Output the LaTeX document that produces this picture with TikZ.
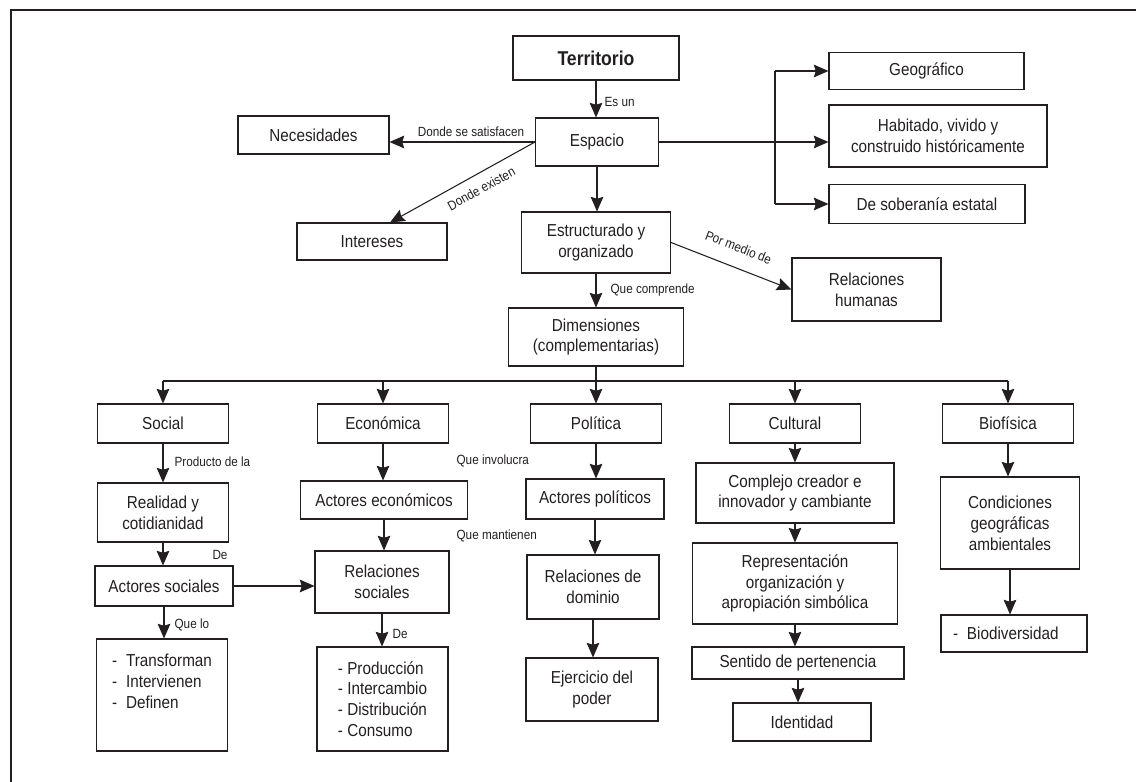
\documentclass[tikz,border=0pt]{standalone}
\usepackage{fontspec}
\setmainfont{Liberation Sans}[FakeStretch=0.88]
\usetikzlibrary{arrows.meta}
\definecolor{ink}{HTML}{231F20}

\begin{document}
\begin{tikzpicture}[x=0.75pt,y=-0.75pt,
    box/.style={draw=ink,text=ink,line width=0.8pt,inner sep=0pt,align=center,
        font=\fontsize{13}{15.6}\selectfont},
    sz/.style 2 args={minimum width=#1*0.75pt,minimum height=#2*0.75pt},
    lst/.style={box,align=left},
    lbl/.style={text=ink,inner sep=1pt,font=\fontsize{10}{12}\selectfont},
    arr/.style={draw=ink,line width=0.8pt,-{Stealth[length=11pt,width=9.5pt,inset=1.5pt]}},
    ln/.style={draw=ink,line width=0.8pt}]
\useasboundingbox (0,0) rectangle (1136,782);
\draw[ink,line width=1.6pt] (11,782) -- (11,10) -- (1136,10);

% upper part
\node[box,sz={166}{44},line width=1.6pt,font=\bfseries\fontsize{15}{18}\selectfont] (terr) at (596,58) {Territorio};
\node[box,sz={123}{48}] (esp) at (597,142) {Espacio};
\node[box,sz={151}{38}] (nec) at (313.5,135) {Necesidades};
\node[box,sz={150}{37}] (inte) at (372,241.5) {Intereses};
\node[box,sz={149}{61}] (est) at (596,242.5) {Estructurado y\\organizado};
\node[box,sz={195}{37}] (geo) at (926.5,71) {Geográfico};
\node[box,sz={218}{62}] (hab) at (938,136) {Habitado, vivido y\\construido históricamente};
\node[box,sz={196}{39}] (sob) at (927,204) {De soberanía estatal};
\node[box,sz={149}{63}] (rh) at (866.5,289.5) {Relaciones\\humanas};
\node[box,sz={175}{58}] (dim) at (596,337) {Dimensiones\\(complementarias)};

% dimensions
\foreach \n/\x/\t in {soc/163/Social, eco/383/Económica, pol/596/Política, cul/795/Cultural, bio/1008/Biofísica}
    \node[box,sz={131}{39}] (\n) at (\x,423.5) {\t};

\node[box,sz={131}{59}] (real) at (163,512.5) {Realidad y\\cotidianidad};
\node[box,sz={138}{40}] (acs) at (164,586) {Actores sociales};
\node[lst,sz={131}{112}] (sl) at (162,695) {\makebox[10.5pt][l]{-}Transforman\\\makebox[10.5pt][l]{-}Intervienen\\\makebox[10.5pt][l]{-}Definen\\\strut};

\node[box,sz={167}{38}] (aec) at (384,500) {Actores económicos};
\node[box,sz={134}{62}] (rs) at (382,582) {Relaciones\\sociales};
\node[lst,sz={131}{104}] (el) at (382.5,699) {- Producción\\- Intercambio\\- Distribución\\- Consumo};

\node[box,sz={138}{40}] (apo) at (595,499) {Actores políticos};
\node[box,sz={132}{64}] (rd) at (593,587) {Relaciones de\\dominio};
\node[box,sz={132}{63}] (ej) at (592,689.5) {Ejercicio del\\poder};

\node[box,sz={198}{60}] (cc) at (795,493) {Complejo creador e\\innovador y cambiante};
\node[box,sz={205}{81}] (rep) at (795,583.5) {Representación\\organización y\\apropiación simbólica};
\node[box,sz={212}{32}] (spe) at (798,663) {Sentido de pertenencia};
\node[box,sz={138}{38}] (ide) at (802,722) {Identidad};

\node[box,sz={139}{92}] (cond) at (1010,523) {Condiciones\\geográficas\\ambientales};
\node[lst,inner xsep=9pt,text width=91.5pt,minimum height=37*0.75pt] (biod) at (1014,633.5) {\makebox[10.5pt][l]{-}Biodiversidad};

% connectors
\foreach \a/\b in {terr/esp, esp/est, est/dim, soc/real, real/acs, acs/sl, eco/aec, aec/rs, rs/el,
    pol/apo, apo/rd, rd/ej, cul/cc, cc/rep, rep/spe, spe/ide, bio/cond, cond/biod}
    \draw[arr] (\a.south) -- (\a.south |- \b.north);

\draw[arr] (esp.west) -- node[lbl,above=3pt,pos=0.44] (lsat) {Donde se satisfacen} (esp.west -| nec.east);
\draw[arr] (esp.west) -- node[lbl,below=6pt,sloped,pos=0.42] (lexi) {Donde existen} ([xshift=13.5pt]inte.north);
\draw[arr] (est.east) -- node[lbl,above=10pt,sloped,pos=0.5] (lmed) {Por medio de} (rh.west);

\coordinate (brk) at (775,142);
\draw[arr] (esp.east) -- (esp.east -| hab.west);
\draw[ln] (brk |- geo.west) -- (brk |- sob.west);
\draw[arr] (brk |- geo.west) -- (geo.west);
\draw[arr] (brk |- sob.west) -- (sob.west);

\coordinate (dj) at (596,381);
\draw[ln] (dim.south) -- (dj);
\draw[ln] (dj -| soc.north) -- (dj -| bio.north);
\foreach \n in {soc,eco,pol,cul,bio}
    \draw[arr] (dj -| \n.north) -- (\n.north);

\draw[arr] (acs.east) -- (acs.east -| rs.west);

% labels
\node[lbl,anchor=west] (lesun) at (603,102) {Es un};
\node[lbl,anchor=west] (lcomp) at (609,290) {Que comprende};
\node[lbl,anchor=west] (lprod) at (173,462) {Producto de la};
\node[lbl] (lde) at (220,555) {De};
\node[lbl,anchor=west] (lquelo) at (173,625) {Que lo};
\node[lbl,anchor=west] (linv) at (455,461) {Que involucra};
\node[lbl,anchor=west] (lman) at (455,536) {Que mantienen};
\node[lbl,anchor=west] (lderel) at (391,634) {De};

\end{tikzpicture}
\end{document}
